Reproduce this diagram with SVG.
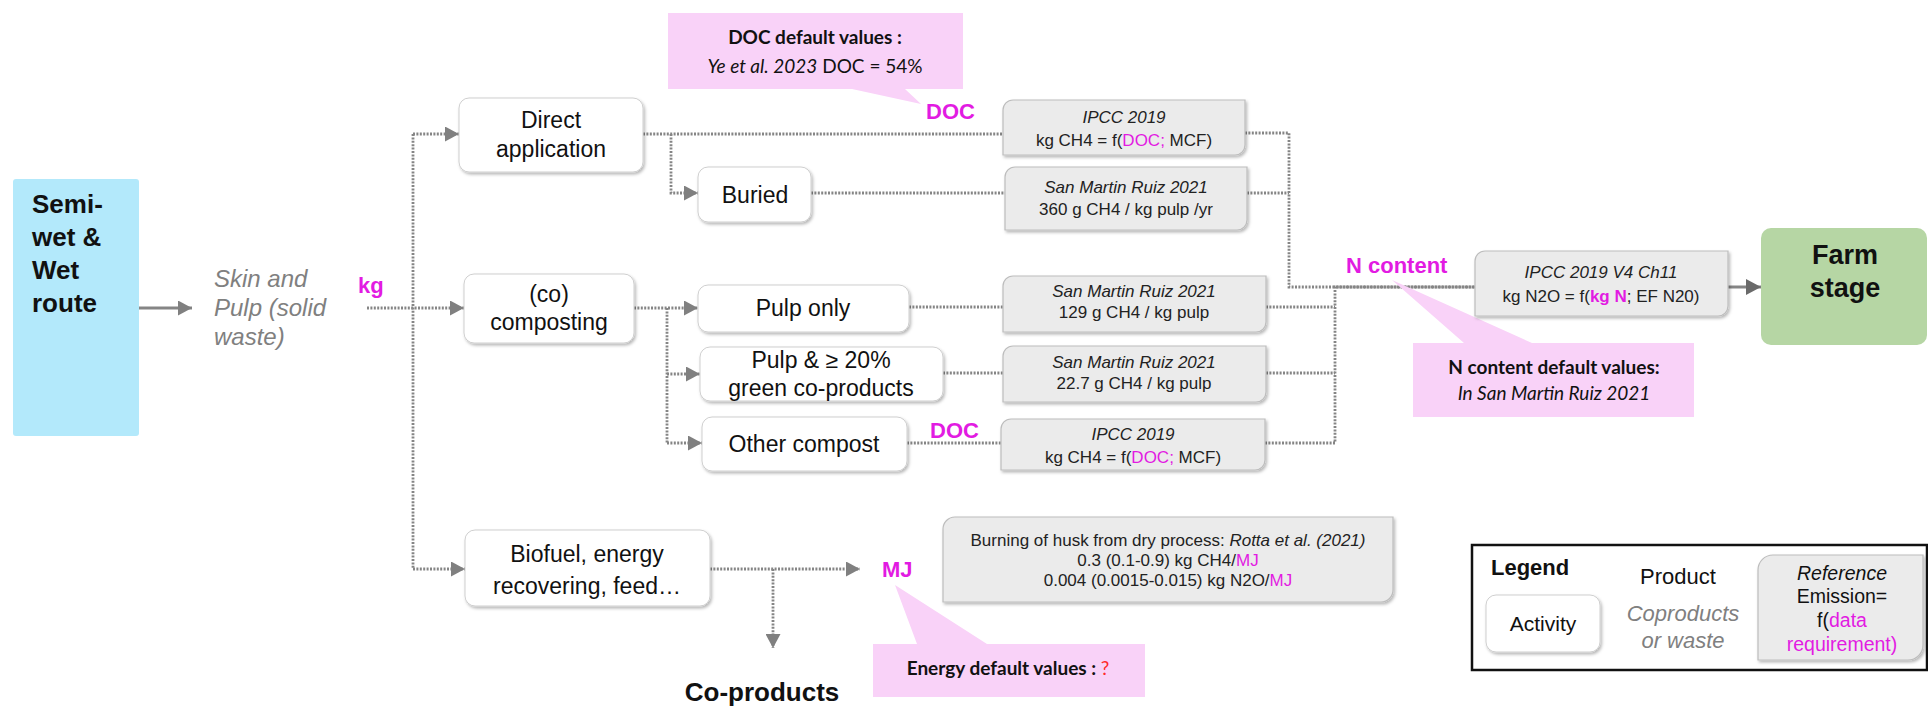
<svg xmlns="http://www.w3.org/2000/svg" width="1928" height="706" viewBox="0 0 1928 706">
  <style>
    text { font-family: "Liberation Sans", Arial, sans-serif; fill: #111; }
    .act { fill: #ffffff; stroke: #cfcfcf; stroke-width: 1; filter: url(#shadow); }
    .ref { fill: #ebebeb; stroke: #bdbdbd; stroke-width: 1.2; filter: url(#shadow); }
    .note { fill: #f9d2f8; }
    .flow { fill: none; stroke: #858585; stroke-width: 2.8; stroke-dasharray: 2 1.4; }
    .solid { fill: none; stroke: #858585; stroke-width: 2.8; }
    .atxt { font-size: 23px; text-anchor: middle; }
    .rtxt { font-size: 17px; text-anchor: middle; fill: #222; }
    .it { font-style: italic; }
    .mag { fill: #e21be2; }
    .key { font-weight: bold; font-size: 22px; fill: #e21be2; }
    .ntxt { font-family: Lato, "Open Sans", sans-serif; font-size: 19px; text-anchor: middle; fill: #111; }
    .waste { font-style: italic; fill: #808080; }
  </style>
  <defs>
    <filter id="shadow" x="-10%" y="-10%" width="125%" height="135%">
      <feDropShadow dx="1.5" dy="2" stdDeviation="1.8" flood-color="#000" flood-opacity="0.28"/>
    </filter>
    <marker id="arrow" markerUnits="userSpaceOnUse" markerWidth="14" markerHeight="15" refX="14" refY="7.5" orient="auto">
      <path d="M0,0 L14,7.5 L0,15 Z" fill="#808080"/>
    </marker>
    <marker id="arrowDark" markerUnits="userSpaceOnUse" markerWidth="15" markerHeight="16" refX="15" refY="8" orient="auto">
      <path d="M0,0 L15,8 L0,16 Z" fill="#6a6a6a"/>
    </marker>
  </defs>

  <!-- connectors -->
  <g id="connectors">
    <path class="solid" d="M139,308 H192" marker-end="url(#arrow)"/>
    <path class="flow" d="M367,308 H464" marker-end="url(#arrow)"/>
    <path class="flow" d="M413,134 V569"/>
    <path class="flow" d="M413,134 H459" marker-end="url(#arrow)"/>
    <path class="flow" d="M413,569 H465" marker-end="url(#arrow)"/>
    <path class="flow" d="M643,134 H1003"/>
    <path class="flow" d="M671,134 V193 H698" marker-end="url(#arrow)"/>
    <path class="flow" d="M811,193 H1005"/>
    <path class="flow" d="M634,308 H698" marker-end="url(#arrow)"/>
    <path class="flow" d="M667,308 V443"/>
    <path class="flow" d="M667,374 H700" marker-end="url(#arrow)"/>
    <path class="flow" d="M667,443 H702" marker-end="url(#arrow)"/>
    <path class="flow" d="M909,307 H1003"/>
    <path class="flow" d="M943,373 H1003"/>
    <path class="flow" d="M907,443 H1001"/>
    <path class="flow" d="M1245,133 H1289 V287 H1475"/>
    <path class="flow" d="M1247,193 H1289"/>
    <path class="flow" d="M1266,307 H1335"/>
    <path class="flow" d="M1266,373 H1335"/>
    <path class="flow" d="M1265,443 H1335 V287 H1475"/>
    <path class="solid" d="M1728,287 H1761" marker-end="url(#arrowDark)"/>
    <path class="flow" d="M710,569 H860" marker-end="url(#arrow)"/>
    <path class="flow" d="M773,569 V648" marker-end="url(#arrow)"/>
  </g>

  <!-- route and farm stages -->
  <g id="semi-wet-route">
    <rect x="13" y="179" width="126" height="257" rx="3" fill="#b3e9fb"/>
    <text x="32" y="213" font-size="26" font-weight="bold">Semi-</text>
    <text x="32" y="246" font-size="26" font-weight="bold">wet &amp;</text>
    <text x="32" y="279" font-size="26" font-weight="bold">Wet</text>
    <text x="32" y="312" font-size="26" font-weight="bold">route</text>
  </g>
  <g id="skin-pulp">
    <text class="waste" x="214" y="287" font-size="24">Skin and</text>
    <text class="waste" x="214" y="316" font-size="24">Pulp (solid</text>
    <text class="waste" x="214" y="345" font-size="24">waste)</text>
  </g>
  <g id="kg-label"><text class="key" x="358" y="293">kg</text></g>

  <g id="farm-stage">
    <rect x="1761" y="228" width="166" height="117" rx="10" fill="#b6d6a4"/>
    <text x="1845" y="264" font-size="27" font-weight="bold" text-anchor="middle">Farm</text>
    <text x="1845" y="297" font-size="27" font-weight="bold" text-anchor="middle">stage</text>
  </g>

  <!-- activities -->
  <g id="direct-application">
    <rect class="act" x="459" y="98" width="184" height="74" rx="10"/>
    <text class="atxt" x="551" y="128">Direct</text>
    <text class="atxt" x="551" y="157">application</text>
  </g>
  <g id="buried">
    <rect class="act" x="698" y="167" width="113" height="55" rx="10"/>
    <text class="atxt" x="755" y="203">Buried</text>
  </g>
  <g id="co-composting">
    <rect class="act" x="464" y="274" width="170" height="69" rx="10"/>
    <text class="atxt" x="549" y="302">(co)</text>
    <text class="atxt" x="549" y="330">composting</text>
  </g>
  <g id="pulp-only">
    <rect class="act" x="698" y="285" width="211" height="47" rx="10"/>
    <text class="atxt" x="803" y="316">Pulp only</text>
  </g>
  <g id="pulp-green">
    <rect class="act" x="700" y="347" width="243" height="54" rx="10"/>
    <text class="atxt" x="821" y="368">Pulp &amp; ≥ 20%</text>
    <text class="atxt" x="821" y="396">green co-products</text>
  </g>
  <g id="other-compost">
    <rect class="act" x="702" y="417" width="205" height="54" rx="10"/>
    <text class="atxt" x="804" y="452">Other compost</text>
  </g>
  <g id="biofuel">
    <rect class="act" x="465" y="530" width="245" height="76" rx="10"/>
    <text class="atxt" x="587" y="562">Biofuel, energy</text>
    <text class="atxt" x="587" y="594">recovering, feed…</text>
  </g>

  <!-- default-value notes -->
  <g id="note-doc">
    <path class="note" d="M668,13 H963 V89 H905 L921,104 L852,89 H668 Z"/>
    <text class="ntxt" x="815" y="44" font-size="23.5" font-weight="bold">DOC default values :</text>
    <text class="ntxt" x="815" y="73" font-size="23.3"><tspan font-style="italic">Ye et al. 2023</tspan> DOC = 54%</text>
  </g>
  <g id="note-n">
    <path class="note" d="M1413,343 H1464 L1392,280 L1532,343 H1694 V417 H1413 Z"/>
    <text class="ntxt" x="1554" y="374" font-size="22" font-weight="bold">N content default values:</text>
    <text class="ntxt" x="1554" y="400" font-size="21" font-style="italic">In San Martin Ruiz 2021</text>
  </g>
  <g id="note-energy">
    <path class="note" d="M873,644 H917 L895,585 L987,644 H1145 V697 H873 Z"/>
    <text class="ntxt" x="1008" y="675" font-weight="bold">Energy default values : <tspan fill="#ff2a2a" font-weight="normal">?</tspan></text>
  </g>

  <!-- data requirements -->
  <g id="doc-top"><text class="key" x="926" y="119">DOC</text></g>
  <g id="doc-bottom"><text class="key" x="930" y="438">DOC</text></g>
  <g id="n-content"><text class="key" x="1346" y="273" font-size="23.5">N content</text></g>
  <g id="mj"><text class="key" x="882" y="577" font-size="24">MJ</text></g>
  <g id="co-products"><text x="762" y="701" font-size="26" font-weight="bold" text-anchor="middle">Co-products</text></g>

  <!-- emission references -->
  <g id="ref-ipcc-direct">
    <path class="ref" d="M1013,100 H1245 V145 A10,10 0 0 1 1235,155 H1003 V110 A10,10 0 0 1 1013,100 Z"/>
    <text class="rtxt it" x="1124" y="123">IPCC 2019</text>
    <text class="rtxt" x="1124" y="146">kg CH4 = f(<tspan class="mag">DOC;</tspan> MCF)</text>
  </g>
  <g id="ref-buried">
    <path class="ref" d="M1015,167 H1247 V220 A10,10 0 0 1 1237,230 H1005 V177 A10,10 0 0 1 1015,167 Z"/>
    <text class="rtxt it" x="1126" y="193">San Martin Ruiz 2021</text>
    <text class="rtxt" x="1126" y="215">360 g CH4 / kg pulp /yr</text>
  </g>
  <g id="ref-pulp-only">
    <path class="ref" d="M1013,276 H1266 V322 A10,10 0 0 1 1256,332 H1003 V286 A10,10 0 0 1 1013,276 Z"/>
    <text class="rtxt it" x="1134" y="297">San Martin Ruiz 2021</text>
    <text class="rtxt" x="1134" y="318">129 g CH4 / kg pulp</text>
  </g>
  <g id="ref-pulp-green">
    <path class="ref" d="M1013,346 H1266 V392 A10,10 0 0 1 1256,402 H1003 V356 A10,10 0 0 1 1013,346 Z"/>
    <text class="rtxt it" x="1134" y="368">San Martin Ruiz 2021</text>
    <text class="rtxt" x="1134" y="389">22.7 g CH4 / kg pulp</text>
  </g>
  <g id="ref-ipcc-compost">
    <path class="ref" d="M1011,419 H1265 V460 A10,10 0 0 1 1255,470 H1001 V429 A10,10 0 0 1 1011,419 Z"/>
    <text class="rtxt it" x="1133" y="440">IPCC 2019</text>
    <text class="rtxt" x="1133" y="463">kg CH4 = f(<tspan class="mag">DOC;</tspan> MCF)</text>
  </g>
  <g id="ref-ipcc-n2o">
    <path class="ref" d="M1485,251 H1728 V306 A10,10 0 0 1 1718,316 H1475 V261 A10,10 0 0 1 1485,251 Z"/>
    <text class="rtxt it" x="1601" y="278">IPCC 2019 V4 Ch11</text>
    <text class="rtxt" x="1601" y="302">kg N2O = f(<tspan class="mag" font-weight="bold">kg N</tspan>; EF N20)</text>
  </g>
  <g id="ref-burning">
    <path class="ref" d="M955,517 H1393 V590 A12,12 0 0 1 1381,602 H943 V529 A12,12 0 0 1 955,517 Z"/>
    <text class="rtxt" x="1168" y="546">Burning of husk from dry process: <tspan class="it">Rotta et al. (2021)</tspan></text>
    <text class="rtxt" x="1168" y="566">0.3 (0.1-0.9) kg CH4/<tspan class="mag">MJ</tspan></text>
    <text class="rtxt" x="1168" y="586">0.004 (0.0015-0.015) kg N2O/<tspan class="mag">MJ</tspan></text>
  </g>

  <!-- legend -->
  <g id="legend">
    <rect x="1472" y="545" width="455" height="125" fill="#fff" stroke="#111" stroke-width="2.5"/>
    <text x="1491" y="575" font-size="22" font-weight="bold">Legend</text>
    <rect class="act" x="1486" y="595" width="114" height="57" rx="10"/>
    <text x="1543" y="631" font-size="21" text-anchor="middle">Activity</text>
    <text x="1678" y="584" font-size="22" text-anchor="middle">Product</text>
    <text class="waste" x="1683" y="621" font-size="22" text-anchor="middle">Coproducts</text>
    <text class="waste" x="1683" y="648" font-size="22" text-anchor="middle">or waste</text>
    <path class="ref" d="M1773,555 H1923 V645 A15,15 0 0 1 1908,660 H1758 V570 A15,15 0 0 1 1773,555 Z"/>
    <text class="it" x="1842" y="580" font-size="19.5" text-anchor="middle">Reference</text>
    <text x="1842" y="603" font-size="19.5" text-anchor="middle">Emission=</text>
    <text x="1842" y="627" font-size="19.5" text-anchor="middle">f(<tspan class="mag">data</tspan></text>
    <text class="mag" x="1842" y="651" font-size="19.5" text-anchor="middle">requirement)</text>
  </g>
</svg>
